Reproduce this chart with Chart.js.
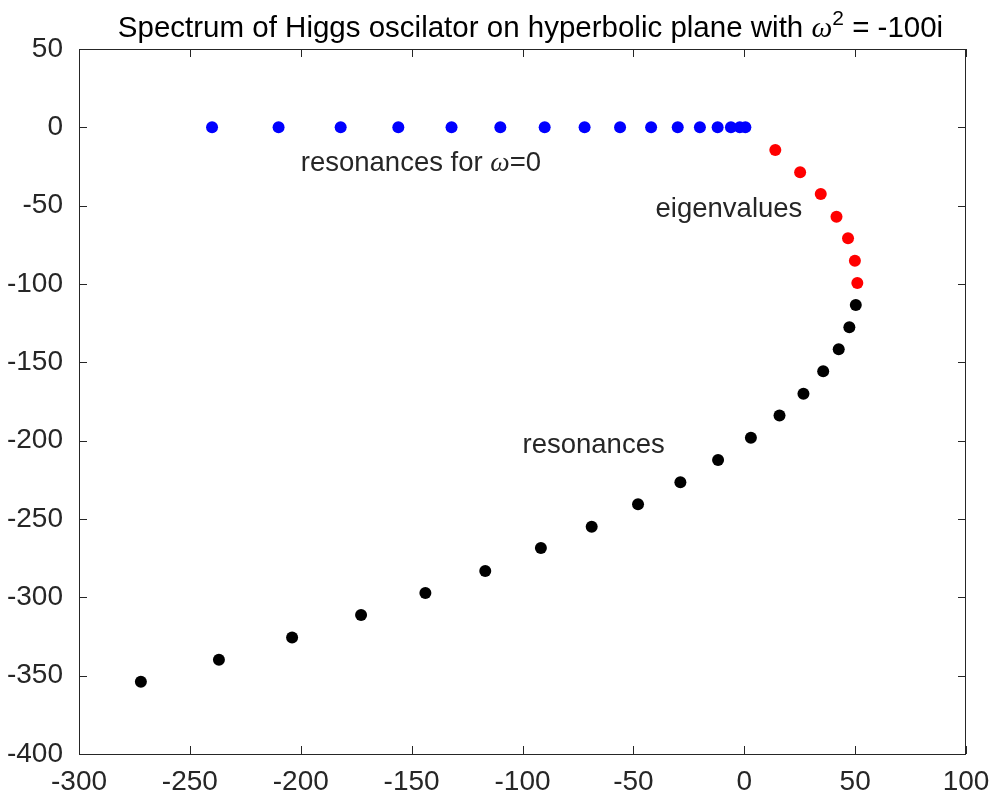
<!DOCTYPE html>
<html>
<head>
<meta charset="utf-8">
<script src="https://cdn.jsdelivr.net/npm/chart.js@4"></script>
<style>
  body { margin: 0; background: #fff; }
  #wrap { width: 996px; height: 800px; }
</style>
</head>
<body>
<div id="wrap"><canvas id="spectrum"></canvas></div>
<script>
// Spectrum of the Higgs oscillator
const zeroOmegaX = [-240, -210, -182, -156, -132, -110, -90, -72, -56, -42, -30, -20, -12, -6, -2, 0.5];
const zeroOmegaY = [0, 0, 0, 0, 0, 0, 0, 0, 0, 0, 0, 0, 0, 0, 0, 0];

const eigenX = [14.0, 25.2, 34.5, 41.6, 46.8, 49.9, 51.0];
const eigenY = [-14.5, -28.7, -42.5, -57.0, -70.8, -85.1, -99.3];

const resonX = [50.3, 47.4, 42.6, 35.6, 26.7, 15.9, 3.0, -11.8, -28.8, -47.9, -68.8, -91.7, -116.8, -143.8, -172.8, -203.9, -236.9, -272.1];
const resonY = [-113.4, -127.6, -141.7, -155.7, -170.0, -184.0, -198.1, -212.4, -226.6, -240.6, -254.9, -268.5, -283.2, -297.2, -311.3, -325.6, -339.9, -353.9];

const xTicks = [-300, -250, -200, -150, -100, -50, 0, 50, 100];
const yTicks = [50, 0, -50, -100, -150, -200, -250, -300, -350, -400];

// text labels, left end of baseline in data coordinates
const labelText = [['resonances for ', 'ω', '=0'], ['eigenvalues'], ['resonances']];
const labelX = [-200, -40, -100];
const labelY = [-27.7, -57.3, -208.1];

const FONT = '"Liberation Sans", Arial, Helvetica, sans-serif';
const GREEK = '"Liberation Serif", "DejaVu Serif", serif';
const INK = '#262626';

function toPoints(xs, ys) {
    return xs.map((x, i) => ({ x: x, y: ys[i] }));
}

// draws a run of text pieces, greek letters in italic serif
function drawPieces(ctx, pieces, x, y) {
    pieces.forEach(p => {
        ctx.font = p.font;
        ctx.fillText(p.text, x, y + (p.dy || 0));
        x += ctx.measureText(p.text).width;
    });
}

function piecesWidth(ctx, pieces) {
    let w = 0;
    pieces.forEach(p => { ctx.font = p.font; w += ctx.measureText(p.text).width; });
    return w;
}

const matlabFrame = {
    id: 'matlabFrame',
    afterDraw(chart) {
        const ctx = chart.ctx;
        const { left, right, top, bottom } = chart.chartArea;
        const xs = chart.scales.x, ys = chart.scales.y;
        const tl = 8;

        ctx.save();
        ctx.strokeStyle = INK;
        ctx.lineWidth = 1;
        ctx.strokeRect(left + 0.5, top + 0.5, right - left - 1, bottom - top);

        ctx.beginPath();
        xTicks.forEach(v => {
            const px = Math.round(xs.getPixelForValue(v)) + 0.5;
            ctx.moveTo(px, bottom); ctx.lineTo(px, bottom - tl);
            ctx.moveTo(px, top); ctx.lineTo(px, top + tl);
        });
        yTicks.forEach(v => {
            const py = Math.round(ys.getPixelForValue(v)) + 0.5;
            ctx.moveTo(left, py); ctx.lineTo(left + tl, py);
            ctx.moveTo(right, py); ctx.lineTo(right - tl, py);
        });
        ctx.stroke();

        // title with superscript
        ctx.fillStyle = '#000';
        ctx.textBaseline = 'alphabetic';
        ctx.textAlign = 'left';
        const title = [
            { text: 'Spectrum of Higgs oscilator on hyperbolic plane with ', font: '29.5px ' + FONT },
            { text: 'ω', font: 'italic 29.5px ' + GREEK },
            { text: '2', font: '21px ' + FONT, dy: -12 },
            { text: ' = -100i', font: '29.5px ' + FONT }
        ];
        const tw = piecesWidth(ctx, title);
        drawPieces(ctx, title, (left + right) / 2 + 8 - tw / 2, 37);

        // annotations
        ctx.fillStyle = INK;
        labelText.forEach((parts, i) => {
            const pieces = parts.map(t => ({ text: t, font: (t === 'ω' ? 'italic 27.5px ' + GREEK : '27.5px ' + FONT) }));
            drawPieces(ctx, pieces, xs.getPixelForValue(labelX[i]), ys.getPixelForValue(labelY[i]));
        });
        ctx.restore();
    }
};

const dot = color => ({
    pointRadius: 6,
    pointHoverRadius: 6,
    pointBackgroundColor: color,
    pointBorderWidth: 0,
    borderColor: color,
    backgroundColor: color,
    showLine: false
});

new Chart(document.getElementById('spectrum'), {
    type: 'scatter',
    data: {
        datasets: [
            Object.assign({ label: 'resonances for ω=0', data: toPoints(zeroOmegaX, zeroOmegaY) }, dot('#0000ff')),
            Object.assign({ label: 'eigenvalues', data: toPoints(eigenX, eigenY) }, dot('#ff0000')),
            Object.assign({ label: 'resonances', data: toPoints(resonX, resonY) }, dot('#000000'))
        ]
    },
    options: {
        responsive: true,
        maintainAspectRatio: false,
        animation: false,
        layout: { padding: { left: 0, right: 30, top: 49, bottom: 0 } },
        plugins: {
            legend: { display: false },
            title: { display: false },
            tooltip: { enabled: false }
        },
        scales: {
            x: {
                type: 'linear',
                min: -300, max: 100,
                afterBuildTicks: s => { s.ticks = xTicks.map(v => ({ value: v })); },
                afterFit: s => { s.height = 46; s.paddingLeft = 0; s.paddingRight = 0; },
                grid: { display: false, drawTicks: false },
                border: { display: false },
                ticks: { color: INK, font: { family: FONT, size: 28 }, padding: 11, maxRotation: 0, autoSkip: false }
            },
            y: {
                type: 'linear',
                min: -400, max: 50,
                afterBuildTicks: s => { s.ticks = yTicks.map(v => ({ value: v })); },
                afterFit: s => { s.width = 79; s.paddingTop = 0; s.paddingBottom = 0; },
                grid: { display: false, drawTicks: false },
                border: { display: false },
                ticks: { color: INK, font: { family: FONT, size: 28 }, padding: 16, autoSkip: false }
            }
        }
    },
    plugins: [matlabFrame]
});
</script>
</body>
</html>
